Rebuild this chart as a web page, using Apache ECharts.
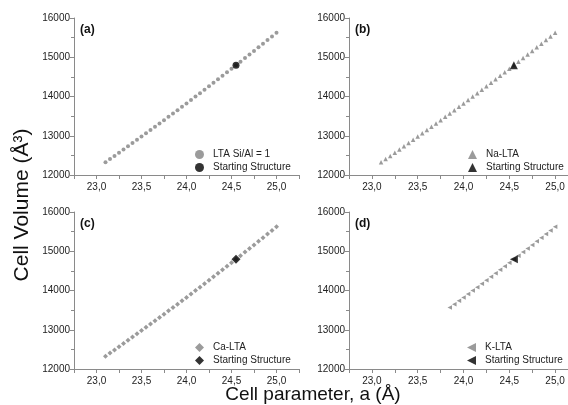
<!DOCTYPE html>
<html><head><meta charset="utf-8">
<script src="https://cdn.jsdelivr.net/npm/echarts@6/dist/echarts.min.js"></script>
<style>html,body{margin:0;padding:0;background:#fff}#c{width:568px;height:405px}</style>
</head><body><div id="c"></div>
<script>
// Cell parameter a (Å) values for panels a, b, c
const aFull = [23.10,23.15,23.20,23.25,23.30,23.35,23.40,23.45,23.50,23.55,23.60,23.65,23.70,23.75,23.80,23.85,23.90,23.95,24.00,24.05,24.10,24.15,24.20,24.25,24.30,24.35,24.40,24.45,24.50,24.55,24.60,24.65,24.70,24.75,24.80,24.85,24.90,24.95,25.00];
// Cell volume (Å^3)
const vFull = [12326,12407,12487,12568,12649,12731,12813,12895,12978,13061,13144,13228,13312,13396,13481,13566,13652,13738,13824,13911,13998,14085,14172,14261,14349,14438,14527,14616,14706,14796,14887,14978,15069,15161,15253,15345,15438,15531,15625];
// Panel d (K-LTA) range
const aK = [23.85,23.90,23.95,24.00,24.05,24.10,24.15,24.20,24.25,24.30,24.35,24.40,24.45,24.50,24.55,24.60,24.65,24.70,24.75,24.80,24.85,24.90,24.95,25.00];
const vK = [13566,13652,13738,13824,13911,13998,14085,14172,14261,14349,14438,14527,14616,14706,14796,14887,14978,15069,15161,15253,15345,15438,15531,15625];
// Starting structures
const startA = [24.55];
const startV = [14796];
const panelLabels = ['(a)','(b)','(c)','(d)'];
const seriesNames = ['LTA Si/Al = 1','Na-LTA','Ca-LTA','K-LTA'];

const pairs = (xs, ys) => xs.map((x,i)=>[x, ys[i]]);
const grids = [
  {left:74, top:18, width:225, height:157},
  {left:349, top:18, width:229, height:157},
  {left:74, top:212, width:225, height:157},
  {left:349, top:212, width:229, height:157}
];
const LEFT_TRI = 'path://M10,0 L10,10 L0,5 Z';
const symbols = [
  {s:'circle', r:0, size:4, ls:7, icon:'circle'},
  {s:'triangle', r:0, size:4.5, ls:8, icon:'triangle'},
  {s:'diamond', r:0, size:5, ls:9, icon:'diamond'},
  {s:'triangle', r:90, size:4.5, ls:8, icon:LEFT_TRI}
];
const legendPos = [
  {left:195, top:148},
  {left:468, top:148},
  {left:195, top:341},
  {left:467, top:341}
];
const FONT = 'Liberation Sans, Arial, sans-serif';
const axisCommon = {
  axisLine:{show:true, onZero:false, lineStyle:{color:'#8a8a8a', width:1}},
  axisTick:{show:true, length:4, lineStyle:{color:'#8a8a8a'}},
  splitLine:{show:false},
  axisLabel:{color:'#222', fontSize:10, fontFamily:FONT}
};
const xAxis = [], yAxis = [], series = [], legend = [], graphic = [];
for (let i=0;i<4;i++){
  xAxis.push(Object.assign({}, axisCommon, {
    type:'value', gridIndex:i, min:22.75, max:25.25, interval:0.25,
    axisLabel:Object.assign({}, axisCommon.axisLabel, {margin:7,
      formatter:v=>{const k=Math.round(v*100); if(k%50!==0||k<2300||k>2500) return ''; return (k/100).toFixed(1).replace('.',',');}})
  }));
  yAxis.push(Object.assign({}, axisCommon, {
    type:'value', gridIndex:i, min:12000, max:16000, interval:1000,
    minorTick:{show:true, splitNumber:2, length:3, lineStyle:{color:'#8a8a8a'}},
    axisLabel:Object.assign({}, axisCommon.axisLabel, {margin:4, formatter:v=>String(v)})
  }));
  const sym = symbols[i];
  const xs = i===3 ? aK : aFull, ys = i===3 ? vK : vFull;
  series.push({
    name:seriesNames[i], type:'scatter', xAxisIndex:i, yAxisIndex:i,
    data:pairs(xs,ys), symbol:sym.s, symbolRotate:sym.r, symbolSize:sym.size,
    itemStyle:{color:'#828282'}, silent:true, z:2
  });
  series.push({
    name:'Starting Structure ('+i+')', type:'scatter', xAxisIndex:i, yAxisIndex:i,
    data:pairs(startA,startV), symbol:sym.s, symbolRotate:sym.r, symbolSize:sym.ls,
    itemStyle:{color:'#000'}, silent:true, z:3
  });
  legend.push({
    orient:'vertical', left:legendPos[i].left, top:legendPos[i].top, padding:0,
    itemWidth:9, itemHeight:9, itemGap:0, selectedMode:false,
    data:[{name:seriesNames[i], icon:sym.icon},
          {name:'Starting Structure ('+i+')', icon:sym.icon}],
    formatter:n=>n.replace(/ \(\d\)$/,''),
    textStyle:{fontSize:10, color:'#222', lineHeight:13, padding:[0,0,0,4], fontFamily:FONT}
  });
  graphic.push({type:'text', left:grids[i].left+6, top:grids[i].top+6,
    style:{text:panelLabels[i], font:'bold 12px '+FONT, fill:'#111'}});
}
graphic.push({type:'text', x:313, y:395,
  style:{text:'Cell parameter, a (Å)', font:'19px '+FONT, fill:'#111', align:'center', verticalAlign:'middle'}});
graphic.push({type:'text', x:22, y:205, rotation:Math.PI/2,
  style:{text:'Cell Volume (Å³)', font:'21px '+FONT, fill:'#111', align:'center', verticalAlign:'middle'}});

const chart = echarts.init(document.getElementById('c'), null, {renderer:'canvas'});
chart.setOption({
  animation:false,
  grid:grids.map(g=>Object.assign({containLabel:false, outerBoundsMode:'none'}, g)),
  xAxis, yAxis, series, legend, graphic
});
</script></body></html>
